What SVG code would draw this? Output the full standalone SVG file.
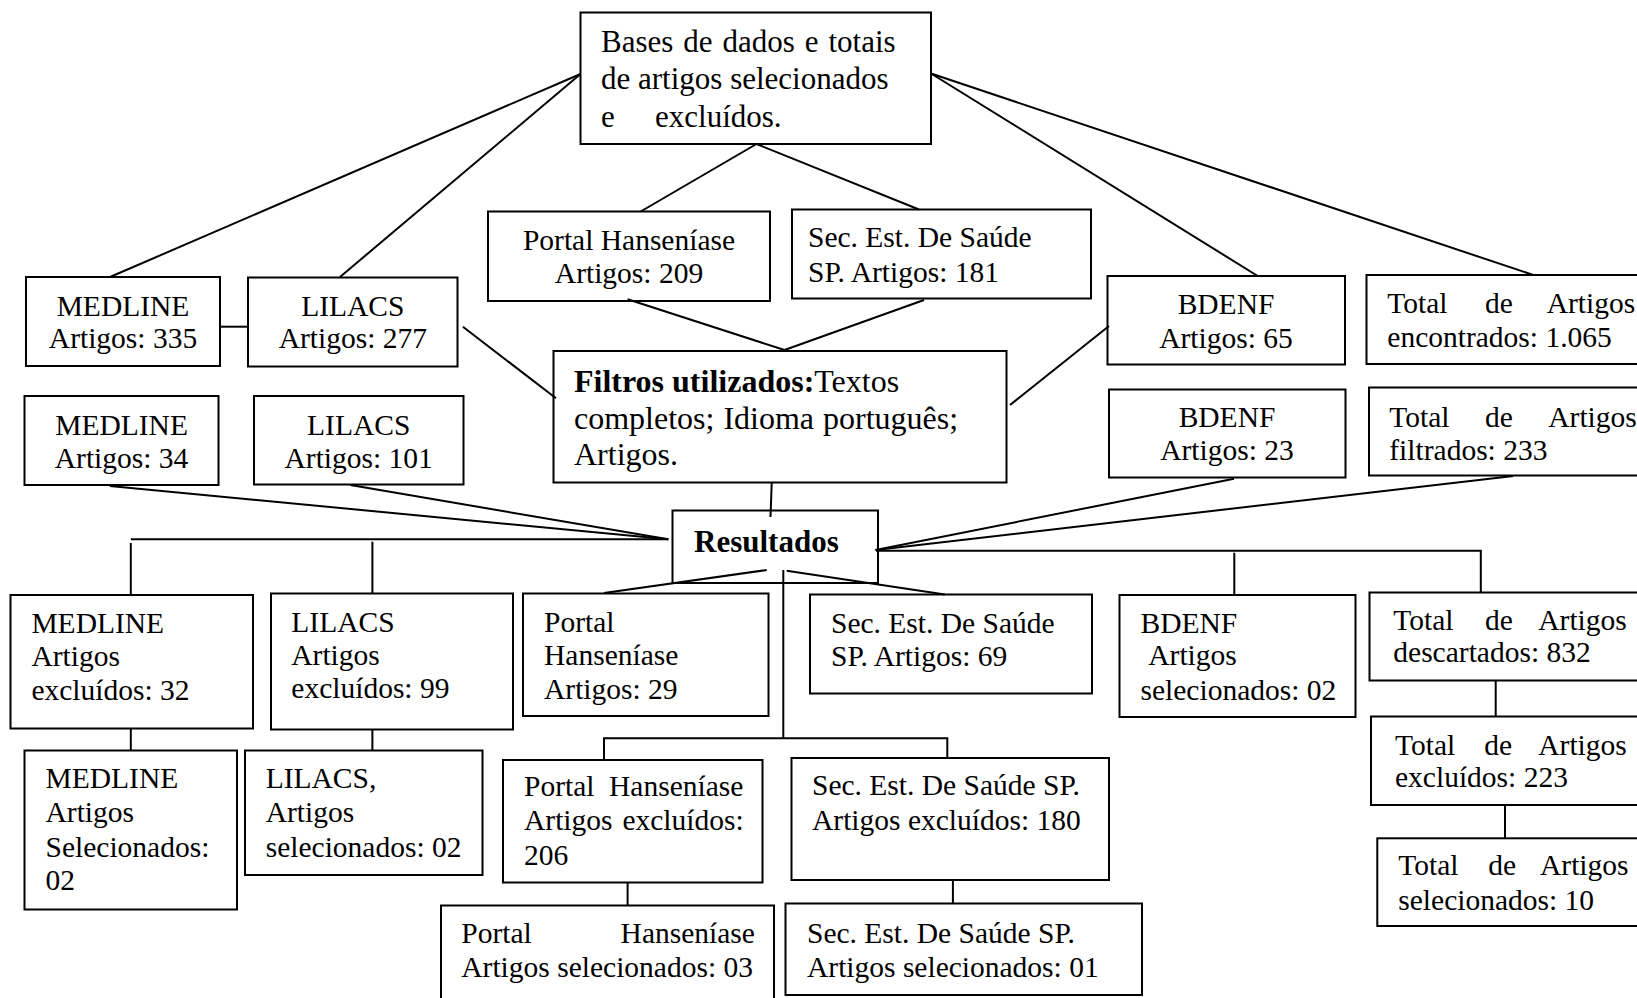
<svg xmlns="http://www.w3.org/2000/svg" width="1637" height="998" viewBox="0 0 1637 998">
<style>
.box{fill:#fff;stroke:#000;stroke-width:2}
.ln{stroke:#000;stroke-width:2;fill:none}
text{font-family:"Liberation Serif","Times New Roman",serif;font-size:29.5px;fill:#000}
.big{font-size:31px}
.fl{font-size:32px}
.c{text-anchor:middle}
.b{font-weight:bold}
</style>
<rect width="1637" height="998" fill="#fff"/>
<g id="n-top"><rect class="box" x="580.5" y="12.5" width="350.5" height="131.5"/>
<text class="big" x="601" y="51.7" word-spacing="2.2">Bases de dados e totais</text>
<text class="big" x="601" y="89.3">de artigos selecionados</text>
<text class="big" y="127.3"><tspan x="601">e</tspan><tspan x="655">excluídos.</tspan></text></g>
<g id="n-portal209"><rect class="box" x="488" y="211.5" width="282" height="89.5"/>
<text class="c" x="629" y="250">Portal Hanseníase</text><text class="c" x="629" y="283.3">Artigos: 209</text></g>
<g id="n-sec181"><rect class="box" x="792" y="209.5" width="299" height="89"/>
<text x="808" y="247.3">Sec. Est. De Saúde</text><text x="808" y="281.7">SP. Artigos: 181</text></g>
<g id="n-medline335"><rect class="box" x="26" y="277" width="194" height="89"/>
<text class="c" x="123" y="316">MEDLINE</text><text class="c" x="123" y="348.3">Artigos: 335</text></g>
<g id="n-lilacs277"><rect class="box" x="248" y="277.5" width="209.5" height="89"/>
<text class="c" x="352.8" y="316">LILACS</text><text class="c" x="352.8" y="348.3">Artigos: 277</text></g>
<g id="n-bdenf65"><rect class="box" x="1107.5" y="276" width="237.5" height="88.5"/>
<text class="c" x="1226" y="314.3">BDENF</text><text class="c" x="1226" y="347.7">Artigos: 65</text></g>
<g id="n-totalenc"><rect class="box" x="1366.5" y="275" width="300" height="89"/>
<text y="313.3"><tspan x="1387.3">Total</tspan><tspan x="1485">de</tspan><tspan x="1546.7">Artigos</tspan></text>
<text x="1387.3" y="347.3">encontrados: 1.065</text></g>
<g id="n-filtros"><rect class="box" x="553.5" y="351" width="453" height="131.5"/>
<text class="fl" x="574" y="392"><tspan class="b">Filtros utilizados:</tspan>Textos</text>
<text class="fl" x="574" y="429" word-spacing="1">completos; Idioma português;</text>
<text class="fl" x="574" y="465">Artigos.</text></g>
<g id="n-medline34"><rect class="box" x="24.5" y="396" width="194" height="89"/>
<text class="c" x="121.6" y="435">MEDLINE</text><text class="c" x="121.6" y="468.3">Artigos: 34</text></g>
<g id="n-lilacs101"><rect class="box" x="254" y="396" width="209.5" height="88.5"/>
<text class="c" x="358.7" y="435">LILACS</text><text class="c" x="358.7" y="468.3">Artigos: 101</text></g>
<g id="n-bdenf23"><rect class="box" x="1109" y="389.5" width="236.5" height="88"/>
<text class="c" x="1227" y="426.7">BDENF</text><text class="c" x="1227" y="460">Artigos: 23</text></g>
<g id="n-totalfilt"><rect class="box" x="1369" y="387.5" width="300" height="88"/>
<text y="426.7"><tspan x="1389.3">Total</tspan><tspan x="1485">de</tspan><tspan x="1548.3">Artigos</tspan></text>
<text x="1389.3" y="460">filtrados: 233</text></g>
<g id="n-resultados"><rect class="box" x="672.5" y="510.5" width="205.5" height="72.5"/>
<text class="big b" x="694" y="551.7">Resultados</text></g>
<g id="n-medlineexcl"><rect class="box" x="10.5" y="595" width="242.5" height="133.5"/>
<text x="31.4" y="633.3">MEDLINE</text><text x="31.4" y="665.5">Artigos</text><text x="31.4" y="700">excluídos: 32</text></g>
<g id="n-lilacsexcl"><rect class="box" x="271" y="593.5" width="242" height="136"/>
<text x="291.3" y="631.7">LILACS</text><text x="291.3" y="664.5">Artigos</text><text x="291.3" y="698.3">excluídos: 99</text></g>
<g id="n-portal29"><rect class="box" x="523" y="593.5" width="245.5" height="122.5"/>
<text x="544" y="631.7">Portal</text><text x="544" y="665">Hanseníase</text><text x="544" y="699.3">Artigos: 29</text></g>
<g id="n-sec69"><rect class="box" x="810" y="594.5" width="282" height="99"/>
<text x="831" y="632.7">Sec. Est. De Saúde</text><text x="831" y="666">SP. Artigos: 69</text></g>
<g id="n-bdenfsel"><rect class="box" x="1119.5" y="595" width="236" height="122"/>
<text x="1140.5" y="632.7">BDENF</text><text x="1148.3" y="665">Artigos</text><text x="1140.5" y="700">selecionados: 02</text></g>
<g id="n-totaldesc"><rect class="box" x="1369.5" y="592.5" width="300" height="88"/>
<text y="630"><tspan x="1393.3">Total</tspan><tspan x="1485">de</tspan><tspan x="1538.3">Artigos</tspan></text>
<text x="1393.3" y="661.7">descartados: 832</text></g>
<g id="n-totalexcl"><rect class="box" x="1371" y="716.5" width="300" height="88.5"/>
<text y="755"><tspan x="1395">Total</tspan><tspan x="1484.3">de</tspan><tspan x="1538.3">Artigos</tspan></text>
<text x="1395" y="786.7">excluídos: 223</text></g>
<g id="n-totalsel"><rect class="box" x="1377.3" y="838.3" width="300" height="87.7"/>
<text y="875"><tspan x="1398.3">Total</tspan><tspan x="1488.3">de</tspan><tspan x="1540">Artigos</tspan></text>
<text x="1398.3" y="910">selecionados: 10</text></g>
<g id="n-medlinesel"><rect class="box" x="24.5" y="750.5" width="212.5" height="159"/>
<text x="45.5" y="788.3">MEDLINE</text><text x="45.5" y="821.7">Artigos</text><text x="45.5" y="856.7">Selecionados:</text><text x="45.5" y="890">02</text></g>
<g id="n-lilacssel"><rect class="box" x="245" y="750.5" width="237.5" height="124.5"/>
<text x="265.7" y="788.3">LILACS,</text><text x="265.7" y="821.7">Artigos</text><text x="265.7" y="856.7">selecionados: 02</text></g>
<g id="n-portalexcl"><rect class="box" x="503" y="760" width="259.5" height="122.5"/>
<text y="796"><tspan x="524">Portal</tspan><tspan x="609">Hanseníase</tspan></text>
<text y="830"><tspan x="524">Artigos</tspan><tspan x="622.4">excluídos:</tspan></text>
<text x="524" y="865">206</text></g>
<g id="n-secexcl"><rect class="box" x="791.5" y="758" width="317.5" height="122"/>
<text x="812" y="795">Sec. Est. De Saúde SP.</text><text x="812" y="830">Artigos excluídos: 180</text></g>
<g id="n-portalsel"><rect class="box" x="441" y="905.5" width="333" height="120"/>
<text y="943.3"><tspan x="461.3">Portal</tspan><tspan x="620.6">Hanseníase</tspan></text>
<text x="461.3" y="976.7">Artigos selecionados: 03</text></g>
<g id="n-secsel"><rect class="box" x="785.5" y="903.5" width="356.5" height="91.5"/>
<text x="807" y="943.3">Sec. Est. De Saúde SP.</text><text x="807" y="976.7">Artigos selecionados: 01</text></g>
<g id="connectors" class="ln">
<line x1="580.5" y1="74" x2="110" y2="277"/>
<line x1="580.5" y1="74" x2="340" y2="277"/>
<line x1="756.5" y1="144" x2="640.7" y2="211.5"/>
<line x1="756.5" y1="144" x2="919" y2="209.5"/>
<line x1="931" y1="73.5" x2="1257.7" y2="276"/>
<line x1="931" y1="73.5" x2="1533.3" y2="275"/>
<line x1="220" y1="326.7" x2="248" y2="326.7"/>
<line x1="462.9" y1="326.7" x2="556" y2="398.3"/>
<line x1="627.6" y1="299.3" x2="784.5" y2="350"/>
<line x1="924" y1="300" x2="784.5" y2="350"/>
<line x1="1010" y1="405" x2="1109" y2="326"/>
<line x1="771.7" y1="483" x2="770.5" y2="517"/>
<line x1="109.8" y1="486" x2="668.3" y2="539.3"/>
<line x1="350.4" y1="485" x2="668.3" y2="539.3"/>
<line x1="1234" y1="478.7" x2="875.5" y2="550"/>
<line x1="1513.3" y1="476" x2="875.5" y2="550"/>
<line x1="130.8" y1="539.3" x2="668.3" y2="539.3"/>
<line x1="130.8" y1="543" x2="130.8" y2="595"/>
<line x1="372.4" y1="541.7" x2="372.4" y2="593.5"/>
<polyline points="876,550.7 1480.8,550.7 1480.8,592.5"/>
<line x1="1234.3" y1="552.7" x2="1234.3" y2="595"/>
<line x1="766.7" y1="570" x2="604" y2="593"/>
<line x1="786.7" y1="570.7" x2="945" y2="594.5"/>
<line x1="783.3" y1="570" x2="783.3" y2="738.3"/>
<polyline points="604,760 604,738.3 947.3,738.3 947.3,758"/>
<line x1="130.8" y1="728.5" x2="130.8" y2="750.5"/>
<line x1="372.4" y1="729.5" x2="372.4" y2="750.5"/>
<line x1="627.6" y1="882.5" x2="627.6" y2="905.5"/>
<line x1="952.9" y1="880" x2="952.9" y2="903.5"/>
<line x1="1495.7" y1="680.5" x2="1495.7" y2="716.5"/>
<line x1="1505" y1="805" x2="1505" y2="838.3"/>
</g>
</svg>
